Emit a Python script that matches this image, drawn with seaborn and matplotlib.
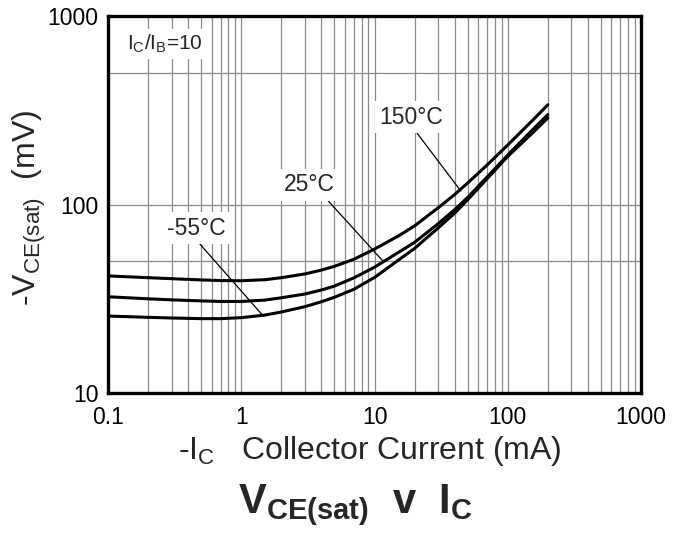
#!/usr/bin/env python3
# coding=utf-8
import matplotlib
matplotlib.use('Agg')
from matplotlib import pyplot as plt
from matplotlib import ticker
import pandas as pd
import seaborn as sns
import numpy as np

# collector current (mA) and saturation voltage (mV)
current = [0.1, 0.2, 0.3, 0.5, 0.7, 1, 1.5, 2, 3, 4, 5, 7, 10, 15, 20, 30, 40, 50, 70, 100, 150, 200]
vce_150 = [41.8, 40.9, 40.4, 39.8, 39.5, 39.4, 39.9, 40.9, 42.8, 44.9, 47.0, 51.2, 58.0, 67.9,
           77.0, 96.0, 113, 130, 162, 207, 275, 338]
vce_25 = [32.4, 31.6, 31.2, 30.8, 30.6, 30.6, 31.1, 32.0, 33.5, 35.2, 36.9, 40.8, 46.5, 55.5,
          63.0, 79.0, 94.0, 109, 140, 183, 245, 300]
vce_m55 = [25.6, 25.2, 25.0, 24.8, 24.8, 25.1, 25.9, 26.9, 28.7, 30.5, 32.2, 35.5, 41.0, 50.5,
           58.5, 75.0, 90.0, 106, 137, 180, 236, 288]
temps = ['150°C', '25°C', '-55°C']

x_ticks = [0.1, 1, 10, 100, 1000]
y_ticks = [10, 100, 1000]
y_extra_grid = [50, 500]

df = pd.DataFrame({
    'Ic': current * 3,
    'Vce': vce_150 + vce_25 + vce_m55,
    'Temp': [t for t in temps for _ in current],
})

sns.set_theme(style='white')
plt.rcParams['font.family'] = ['Liberation Sans', 'DejaVu Sans']
plt.rcParams['mathtext.fontset'] = 'custom'
plt.rcParams['mathtext.rm'] = 'Liberation Sans'
plt.rcParams['mathtext.it'] = 'Liberation Sans'
plt.rcParams['mathtext.bf'] = 'Liberation Sans:bold'

W, H = 686, 535
fig = plt.figure(figsize=(6.86, 5.35), dpi=100)
ax = fig.add_axes([108 / W, 1 - 393 / H, (641 - 108) / W, (393 - 16) / H])

sns.lineplot(data=df, x='Ic', y='Vce', hue='Temp', ax=ax, legend=False,
             palette=['black'] * 3, linewidth=2.2, zorder=4)

ax.set_xscale('log')
ax.set_yscale('log')
ax.set_xlim(0.1, 1000)
ax.set_ylim(10, 1000)

ax.xaxis.set_major_locator(ticker.FixedLocator(x_ticks))
ax.xaxis.set_major_formatter(ticker.FuncFormatter(lambda v, p: '{:g}'.format(v)))
ax.xaxis.set_minor_locator(ticker.LogLocator(base=10, subs=np.arange(2, 10)))
ax.xaxis.set_minor_formatter(ticker.NullFormatter())
ax.yaxis.set_major_locator(ticker.FixedLocator(y_ticks))
ax.yaxis.set_major_formatter(ticker.FuncFormatter(lambda v, p: '{:g}'.format(v)))
ax.yaxis.set_minor_locator(ticker.FixedLocator(y_extra_grid))
ax.yaxis.set_minor_formatter(ticker.NullFormatter())

grid_kw = dict(color='#8a8a8a', linewidth=0.9)
ax.grid(which='major', axis='both', **grid_kw)
ax.grid(which='minor', axis='x', **grid_kw)
ax.grid(which='minor', axis='y', **grid_kw)
ax.set_axisbelow(True)

ax.tick_params(which='both', length=0, labelsize=16.5, colors='black')
ax.tick_params(axis='x', pad=9)
ax.tick_params(axis='y', pad=7)
ax.set_xlabel('')
ax.set_ylabel('')
for s in ax.spines.values():
    s.set_visible(True)
    s.set_color('black')
    s.set_linewidth(2.4)
    s.set_zorder(6)

box = dict(boxstyle='square,pad=0.2', facecolor='white', edgecolor='none')
ax.text(0.139, 660, r'I$_C$/I$_B$=10', fontsize=15, ha='left', va='baseline',
        bbox=box, zorder=5)

# curve labels with leader lines
label_pos = [(18.8, 291), (3.22, 127), (0.457, 75)]
target = [(44.4, 118), (11.6, 50), (1.464, 25.6)]
rel = [(0.54, 0), (0.8, 0), (0.5, 0)]
for t, p, q, r in zip(temps, label_pos, target, rel):
    ax.annotate(t, xy=q, xytext=p, fontsize=16.5, ha='center', va='center',
                bbox=box, zorder=5,
                arrowprops=dict(arrowstyle='-', color='black', lw=0.9,
                                shrinkA=0, shrinkB=0, relpos=r))

fig.text(178 / W, 1 - 459 / H, r'-I$_C$   Collector Current (mA)', fontsize=23,
         ha='left', va='baseline')
fig.text(29 / W, 1 - 208 / H, r'-V$_{CE(sat)}$  (mV)', fontsize=23,
         ha='center', va='center', rotation=90)
fig.text(355 / W, 1 - 513 / H, r'$\mathbf{V_{CE(sat)}}$  $\mathbf{v}$  $\mathbf{I_C}$',
         fontsize=30, ha='center', va='baseline')

fig.savefig('out.png', dpi=100)
